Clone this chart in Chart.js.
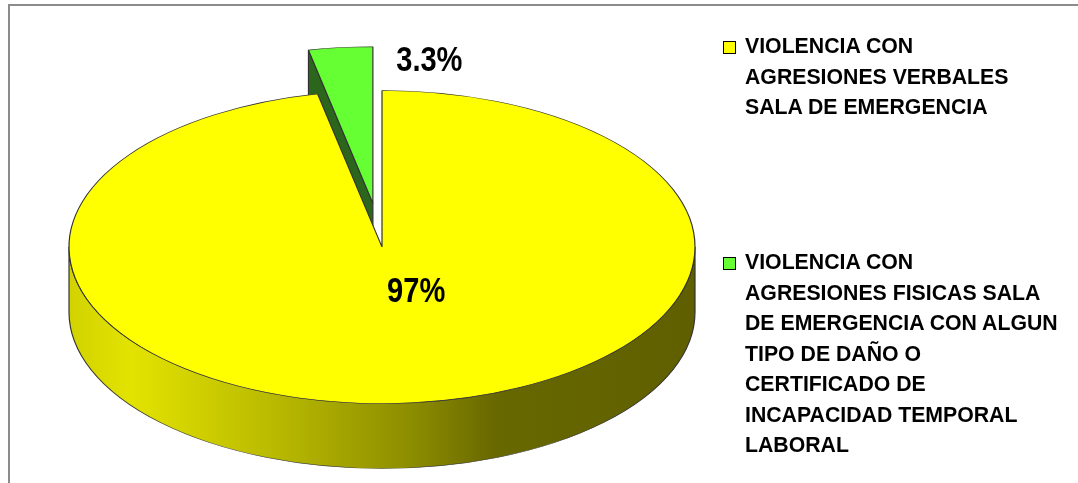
<!DOCTYPE html>
<html>
<head>
<meta charset="utf-8">
<script src="https://cdn.jsdelivr.net/npm/chart.js@4.4.1/dist/chart.umd.min.js"></script>
<style>
  html, body { margin: 0; padding: 0; background: #fff; }
  #wrap { position: relative; width: 1078px; height: 483px; overflow: hidden; }
  #frame { position: absolute; left: 8px; top: 4px; width: 1100px; height: 500px; border-left: 2px solid #8c8c8c; border-top: 2px solid #8c8c8c; }
  #grafico { position: absolute; left: 0; top: 0; }
  #leyenda { position: absolute; left: 722px; top: 0; font-family: "Liberation Sans", Arial, sans-serif; font-weight: 700; font-size: 22.5px; line-height: 30.5px; color: #000; }
  .item { position: absolute; left: 0; white-space: nowrap; }
  .caja { position: absolute; left: 1px; top: 10px; width: 11px; height: 11px; border: 1px solid #000; }
  .texto { margin-left: 23px; transform: scaleX(0.945); transform-origin: 0 0; }
</style>
</head>
<body>
<div id="wrap">
  <div id="frame"></div>
  <canvas id="grafico" width="1078" height="483"></canvas>
  <div id="leyenda"></div>
</div>
<script>
// datos del grafico
const lineas_leyenda = [
	["VIOLENCIA CON", "AGRESIONES VERBALES", "SALA DE EMERGENCIA"],
	["VIOLENCIA CON", "AGRESIONES FISICAS SALA", "DE EMERGENCIA CON ALGUN", "TIPO DE DAÑO O", "CERTIFICADO DE", "INCAPACIDAD TEMPORAL", "LABORAL"],
];
const categorias = lineas_leyenda.map((l) => l.join(" "));
const valores = [96.7, 3.3];
const etiquetas = ["97%", "3.3%"];

const colores = ["#FFFF00", "#66FF33"];
const sombras = [
	[[0, "#d2d200"], [0.1, "#e3e300"], [0.35, "#b5b500"], [0.55, "#8c8c00"], [0.68, "#686800"], [1, "#5f5f00"]],
	[[0, "#2b661c"]],
];

// pie "3D": inclina el pastel, separa porciones y dibuja los costados
const pie3d = {
	id: "pie3d",
	afterUpdate: (chart, args, o) => {
		const meta = chart.getDatasetMeta(0);
		meta.data.forEach((arc, i) => {
			const e = o.explode[i] || 0;
			if (!e) return;
			const mid = (arc.startAngle + arc.endAngle) / 2;
			arc.x += Math.cos(mid) * e;
			arc.y += Math.sin(mid) * e;
		});
	},
	beforeDatasetsDraw: (chart, args, o) => {
		const ctx = chart.ctx;
		const area = chart.chartArea;
		const cx = (area.left + area.right) / 2;
		const cy = (area.top + area.bottom) / 2;
		ctx.save();
		ctx.translate(cx, cy);
		ctx.scale(1, o.tilt);
		ctx.translate(-cx, -cy);
		const d = o.depth / o.tilt;
		const meta = chart.getDatasetMeta(0);

		const relleno = (i, arc) => {
			const stops = o.shade[i];
			if (stops.length == 1) return stops[0][1];
			const g = ctx.createLinearGradient(arc.x - arc.outerRadius, 0, arc.x + arc.outerRadius, 0);
			stops.forEach((s) => g.addColorStop(s[0], s[1]));
			return g;
		};
		ctx.strokeStyle = o.edge;
		ctx.lineWidth = 1.2;
		ctx.lineJoin = "round";

		// costados radiales
		meta.data.forEach((arc, i) => {
			const r = arc.outerRadius;
			[[arc.startAngle, -Math.cos(arc.startAngle)], [arc.endAngle, Math.cos(arc.endAngle)]].forEach(([a, vis]) => {
				if (vis < 0.001) return;
				ctx.beginPath();
				ctx.moveTo(arc.x, arc.y);
				ctx.lineTo(arc.x + Math.cos(a) * r, arc.y + Math.sin(a) * r);
				ctx.lineTo(arc.x + Math.cos(a) * r, arc.y + Math.sin(a) * r + d);
				ctx.lineTo(arc.x, arc.y + d);
				ctx.closePath();
				ctx.fillStyle = relleno(i, arc);
				ctx.fill();
				ctx.stroke();
			});
		});

		// costado exterior (mitad frontal)
		meta.data.forEach((arc, i) => {
			const r = arc.outerRadius;
			for (let k = -1; k <= 1; k++) {
				const a0 = Math.max(arc.startAngle + k * 2 * Math.PI, 0);
				const a1 = Math.min(arc.endAngle + k * 2 * Math.PI, Math.PI);
				if (a1 <= a0) continue;
				ctx.beginPath();
				ctx.arc(arc.x, arc.y, r, a0, a1, false);
				ctx.arc(arc.x, arc.y + d, r, a1, a0, true);
				ctx.closePath();
				ctx.fillStyle = relleno(i, arc);
				ctx.fill();
				ctx.stroke();
			}
		});
	},
	afterDatasetsDraw: (chart, args, o) => {
		const ctx = chart.ctx;
		ctx.restore();
		const meta = chart.getDatasetMeta(0);
		const area = chart.chartArea;
		const cy = (area.top + area.bottom) / 2;
		meta.data.forEach((arc, i) => {
			const p = o.labelPos[i];
			const mid = (arc.startAngle + arc.endAngle) / 2 + (p.turn * Math.PI) / 180;
			const x = arc.x + Math.cos(mid) * arc.outerRadius * p.dist;
			const y = cy + (arc.y - cy) * o.tilt + Math.sin(mid) * arc.outerRadius * p.dist * o.tilt;
			ctx.save();
			ctx.translate(x, y + 2);
			ctx.scale(o.narrow, 1);
			ctx.font = o.font;
			ctx.fillStyle = "#000";
			ctx.textAlign = "center";
			ctx.textBaseline = "middle";
			ctx.fillText(etiquetas[i], 0, 0);
			ctx.restore();
		});
	},
};

const grafico = new Chart(document.querySelector("#grafico"), {
	type: "pie",
	data: {
		labels: categorias,
		datasets: [
			{
				data: valores,
				backgroundColor: colores,
				borderColor: "#333333",
				borderWidth: 1.2,
				clip: false,
			},
		],
	},
	options: {
		responsive: false,
		animation: false,
		events: [],
		radius: 313,
		layout: { padding: { left: 0, right: 314, top: 11, bottom: 0 } },
		plugins: {
			legend: { display: false },
			tooltip: { enabled: false },
			pie3d: {
				tilt: 0.5,
				depth: 65,
				explode: [0, 88],
				shade: sombras,
				edge: "#333333",
				font: 'bold 35px "Liberation Sans", Arial, sans-serif',
				narrow: 0.83,
				labelPos: [
					{ dist: 0.3, turn: -15.4 },
					{ dist: 0.94, turn: 17 },
				],
			},
		},
	},
	plugins: [pie3d],
});

// leyenda
const tops = [31, 247];
const leyenda = document.querySelector("#leyenda");
lineas_leyenda.forEach((lineas, i) => {
	const item = document.createElement("div");
	item.className = "item";
	item.style.top = tops[i] + "px";
	const caja = document.createElement("div");
	caja.className = "caja";
	caja.style.background = colores[i];
	const texto = document.createElement("div");
	texto.className = "texto";
	texto.innerHTML = lineas.join("<br>");
	item.appendChild(caja);
	item.appendChild(texto);
	leyenda.appendChild(item);
});
</script>
</body>
</html>
